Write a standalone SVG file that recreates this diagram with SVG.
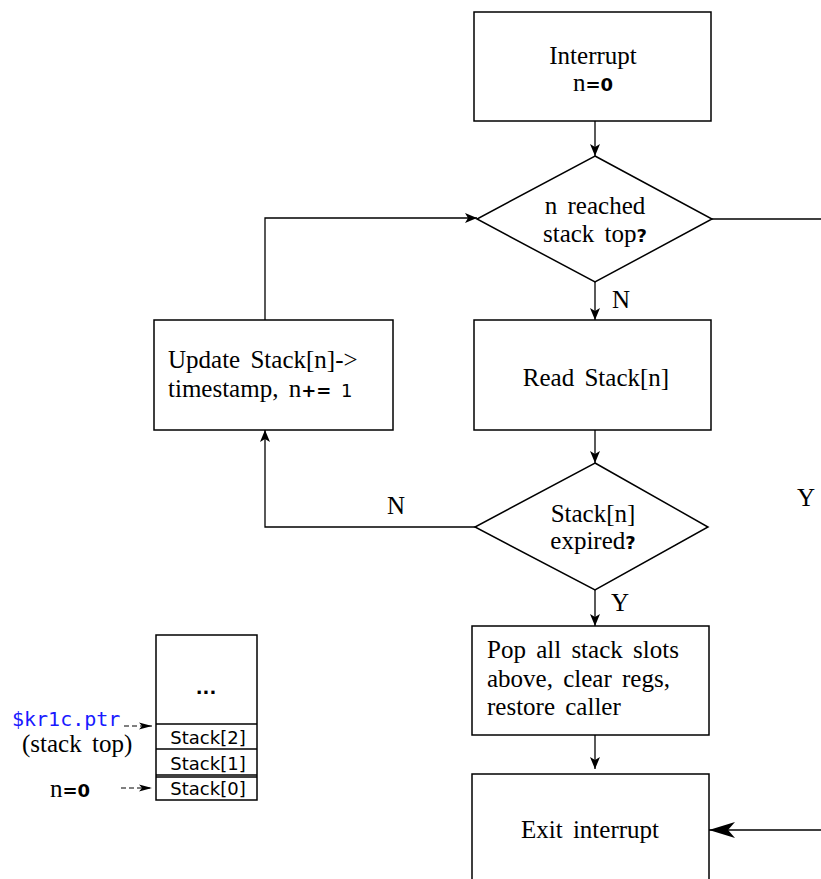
<svg xmlns="http://www.w3.org/2000/svg" width="821" height="879" viewBox="0 0 821 879">
  <defs>
    <style>
      .box { fill: #fff; stroke: #000; stroke-width: 1.5; }
      .wire { fill: none; stroke: #000; stroke-width: 1.3; }
      .dash { fill: none; stroke: #000; stroke-width: 1; stroke-dasharray: 5 3; }
      .t { font-family: "Liberation Serif", "Times New Roman", serif; font-size: 25px; word-spacing: 4px; fill: #000; }
      .sb { font-family: "DejaVu Sans", sans-serif; font-weight: bold; font-size: 18px; }
      .sn { font-family: "DejaVu Sans", sans-serif; font-size: 18px; }
      .slot { font-family: "DejaVu Sans", sans-serif; font-size: 18px; fill: #000; }
      .mono { font-family: "DejaVu Sans Mono", monospace; font-size: 20px; fill: #1a1aff; }
    </style>
    <marker id="ah" markerUnits="userSpaceOnUse" markerWidth="14" markerHeight="12" viewBox="0 0 14 12" refX="12" refY="6" orient="auto">
      <path d="M0,1 L12,6 L0,11 L3,6 Z" fill="#000"/>
    </marker>
    <marker id="ahBig" markerUnits="userSpaceOnUse" markerWidth="28" markerHeight="20" viewBox="0 0 28 20" refX="26" refY="10" orient="auto">
      <path d="M0,2 L26,10 L0,18 L7,10 Z" fill="#000"/>
    </marker>
    <marker id="ahSmall" markerUnits="userSpaceOnUse" markerWidth="14" markerHeight="10" viewBox="0 0 14 10" refX="13" refY="5" orient="auto">
      <path d="M0,1.5 L13,5 L0,8.5 L3,5 Z" fill="#000"/>
    </marker>
  </defs>

  <!-- connectors -->
  <g id="connectors">
    <line class="wire" x1="595" y1="121" x2="595" y2="156" marker-end="url(#ah)"/>
    <line class="wire" x1="712" y1="219" x2="821" y2="219"/>
    <line class="wire" x1="595" y1="282" x2="595" y2="320" marker-end="url(#ah)"/>
    <line class="wire" x1="595" y1="430" x2="595" y2="463" marker-end="url(#ah)"/>
    <polyline class="wire" points="475,527 265,527 265,430" marker-end="url(#ah)"/>
    <polyline class="wire" points="265,320 265,218 477,218" marker-end="url(#ah)"/>
    <line class="wire" x1="595" y1="590" x2="595" y2="626" marker-end="url(#ah)"/>
    <line class="wire" x1="595" y1="735" x2="595" y2="769" marker-end="url(#ah)"/>
    <line class="wire" x1="821" y1="830" x2="709" y2="830" marker-end="url(#ahBig)"/>
    <text class="t" x="612" y="308">N</text>
    <text class="t" x="387" y="514">N</text>
    <text class="t" x="611" y="611">Y</text>
    <text class="t" x="797" y="506">Y</text>
  </g>

  <g id="interrupt">
    <rect class="box" x="474" y="12" width="237" height="109"/>
    <text class="t" x="593" y="64" text-anchor="middle">Interrupt</text>
    <text class="t" x="593" y="91" text-anchor="middle">n<tspan class="sb">=</tspan><tspan class="sb">0</tspan></text>
  </g>

  <g id="stack-top-check">
    <polygon class="box" points="595,156 712,219 595,282 477,219"/>
    <text class="t" x="595" y="214" text-anchor="middle">n reached</text>
    <text class="t" x="595" y="242" text-anchor="middle">stack top<tspan class="sb">?</tspan></text>
  </g>

  <g id="update">
    <rect class="box" x="154" y="320" width="239" height="110"/>
    <text class="t" x="168" y="368">Update Stack[n]-&gt;</text>
    <text class="t" x="168" y="397">timestamp, n<tspan class="sb">+=</tspan><tspan class="sn"> 1</tspan></text>
  </g>

  <g id="read">
    <rect class="box" x="474" y="320" width="237" height="110"/>
    <text class="t" x="596" y="386" text-anchor="middle">Read Stack[n]</text>
  </g>

  <g id="expired-check">
    <polygon class="box" points="595,463 708,527 595,590 475,527"/>
    <text class="t" x="593" y="522" text-anchor="middle">Stack[n]</text>
    <text class="t" x="593" y="549" text-anchor="middle">expired<tspan class="sb">?</tspan></text>
  </g>

  <g id="pop">
    <rect class="box" x="472" y="626" width="237" height="109"/>
    <text class="t" x="487" y="658">Pop all stack slots</text>
    <text class="t" x="487" y="687">above, clear regs,</text>
    <text class="t" x="487" y="715">restore caller</text>
  </g>

  <g id="exit">
    <rect class="box" x="472" y="774" width="237" height="120"/>
    <text class="t" x="590" y="838" text-anchor="middle">Exit interrupt</text>
  </g>

  <g id="stack-memory">
    <rect class="box" x="156" y="635" width="101" height="165" stroke-width="1.3"/>
    <line class="wire" x1="156" y1="724" x2="257" y2="724"/>
    <line class="wire" x1="156" y1="749" x2="257" y2="749"/>
    <line class="wire" x1="156" y1="775" x2="257" y2="775"/>
    <line class="wire" x1="156" y1="777" x2="257" y2="777"/>
    <text class="sn" x="206" y="694" text-anchor="middle" font-weight="bold">...</text>
    <text class="slot" x="208" y="744" text-anchor="middle">Stack[2]</text>
    <text class="slot" x="208" y="770" text-anchor="middle">Stack[1]</text>
    <text class="slot" x="208" y="795" text-anchor="middle">Stack[0]</text>
  </g>

  <g id="stack-pointer">
    <text class="mono" x="12" y="726">$kr1c.ptr</text>
    <text class="t" x="22" y="752" font-size="22">(stack top)</text>
    <line class="dash" x1="124" y1="726" x2="152" y2="726" marker-end="url(#ahSmall)"/>
  </g>

  <g id="n-start">
    <text class="t" x="50" y="797">n<tspan class="sb" font-size="21">=0</tspan></text>
    <line class="dash" x1="121" y1="788" x2="152" y2="788" marker-end="url(#ahSmall)"/>
  </g>
</svg>
